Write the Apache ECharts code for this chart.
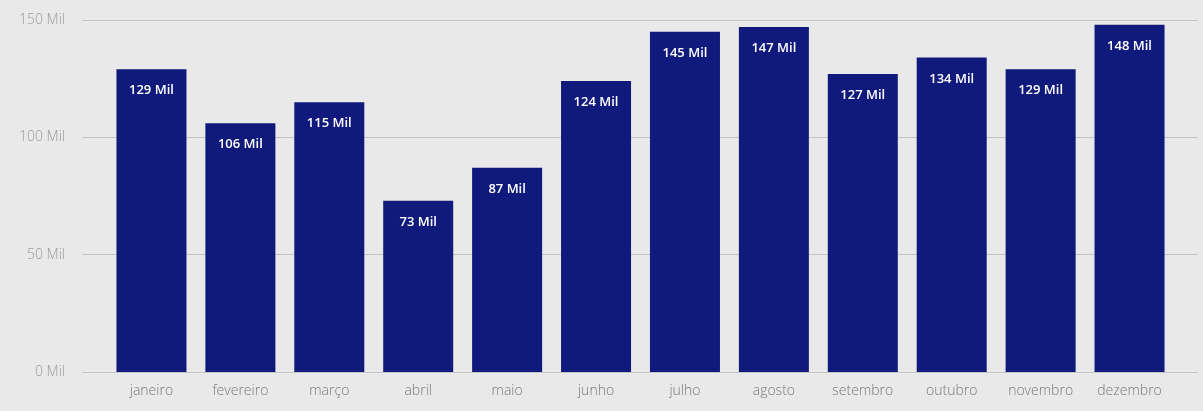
<!DOCTYPE html>
<html>
<head>
<meta charset="utf-8">
<script src="https://cdn.jsdelivr.net/npm/echarts@6/dist/echarts.min.js"></script>
<style>
  html, body { margin: 0; padding: 0; background: #e9e9e9; }
  #chart { width: 1203px; height: 411px; }
</style>
</head>
<body>
<div id="chart"></div>
<script>
const months = ['janeiro', 'fevereiro', 'março', 'abril', 'maio', 'junho',
  'julho', 'agosto', 'setembro', 'outubro', 'novembro', 'dezembro']
const values = [129, 106, 115, 73, 87, 124, 145, 147, 127, 134, 129, 148]
const yTicks = [0, 50, 100, 150]

const font = '"Open Sans", "Noto Sans", sans-serif'
const chart = echarts.init(document.getElementById('chart'), null, { renderer: 'canvas' })

chart.setOption({
  backgroundColor: '#e9e9e9',
  animation: false,
  grid: [
    // grid for y axis labels + gridlines (wider than bar area)
    { left: 82, right: 5, top: 20, bottom: 39 },
    // grid for bars
    { left: 107, right: 29, top: 20, bottom: 39 },
  ],
  xAxis: [
    { gridIndex: 0, type: 'value', show: false, min: 0, max: 1 },
    {
      gridIndex: 1,
      type: 'category',
      data: months,
      axisLine: { show: false },
      axisTick: { show: false },
      axisLabel: { color: '#7a7a7a', fontSize: 14, fontWeight: 300, fontFamily: font, margin: 12 },
    },
  ],
  yAxis: [
    {
      gridIndex: 0,
      type: 'value',
      min: yTicks[0],
      max: yTicks[yTicks.length - 1],
      interval: 50,
      axisLine: { show: false },
      axisTick: { show: false },
      axisLabel: {
        color: '#9a9a9a',
        fontSize: 14,
        fontWeight: 300,
        fontFamily: font,
        margin: 17,
        formatter: (v) => `${v} Mil`,
      },
      splitLine: { lineStyle: { color: '#c4c4c4', width: 1 } },
    },
    { gridIndex: 1, type: 'value', min: 0, max: 150, show: false },
  ],
  series: [
    {
      type: 'bar',
      xAxisIndex: 1,
      yAxisIndex: 1,
      data: values,
      barWidth: 70,
      itemStyle: { color: '#101a7c' },
      label: {
        show: true,
        position: 'insideTop',
        distance: 15,
        color: '#ffffff',
        fontSize: 13,
        fontWeight: 600,
        fontFamily: font,
        formatter: (p) => `${p.value} Mil`,
      },
    },
  ],
})
</script>
</body>
</html>
